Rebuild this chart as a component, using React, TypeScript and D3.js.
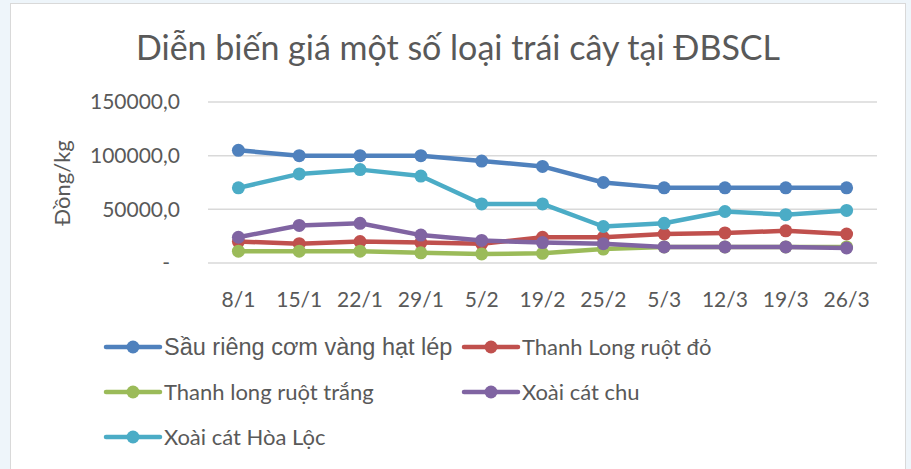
import React, { useRef, useEffect } from "react";
import * as d3 from "d3";

// data
const categories: string[] = ["8/1", "15/1", "22/1", "29/1", "5/2", "19/2", "25/2", "5/3", "12/3", "19/3", "26/3"];
const seriesNames: string[] = [
  "Sầu riêng cơm vàng hạt lép",
  "Thanh Long ruột đỏ",
  "Thanh long ruột trắng",
  "Xoài cát chu",
  "Xoài cát Hòa Lộc",
];
const sauRieng: number[] = [105000, 100000, 100000, 100000, 95000, 90000, 75000, 70000, 70000, 70000, 70000];
const thanhLongDo: number[] = [20000, 18000, 20000, 19000, 18000, 24000, 24000, 27000, 28000, 30000, 27000];
const thanhLongTrang: number[] = [11000, 11000, 11000, 9500, 8500, 9000, 13000, 15000, 15000, 15000, 15000];
const xoaiCatChu: number[] = [24000, 35000, 37000, 26000, 21000, 19000, 18000, 15000, 15000, 15000, 14000];
const xoaiHoaLoc: number[] = [70000, 83000, 87000, 81000, 55000, 55000, 34000, 37000, 48000, 45000, 49000];
const yTicks: number[] = [0, 50000, 100000, 150000];
const colors: string[] = ["#4f81bd", "#c0504d", "#9bbb59", "#8064a2", "#4bacc6"];

const App = () => {
  const canvas = useRef<SVGSVGElement>(null);

  const width = 911;
  const height = 469;
  const plot = { left: 208, right: 877, top: 102, bottom: 263 };
  const calibri = "Lato, 'Open Sans', sans-serif";

  useEffect(() => {
    const svg = d3.select(canvas.current);
    svg.selectAll("*").remove();

    // frame
    svg.append("rect").attr("width", width).attr("height", height).attr("fill", "#eef5fa");
    svg.append("rect")
      .attr("x", 10.5).attr("y", 3.5).attr("width", 895).attr("height", 470)
      .attr("fill", "#ffffff").attr("stroke", "#d9d9d9").attr("stroke-width", 1);

    // title
    svg.append("text")
      .attr("x", 458).attr("y", 60)
      .attr("text-anchor", "middle")
      .style("font-family", calibri).style("font-size", "34px").style("fill", "#595959")
      .text("Diễn biến giá một số loại trái cây tại ĐBSCL");

    const xScale = d3.scaleBand<string>().domain(categories).range([plot.left, plot.right]);
    const yScale = d3.scaleLinear().domain([0, 150000]).range([plot.bottom, plot.top]);
    const xc = (c: string) => (xScale(c) as number) + xScale.bandwidth() / 2;

    // gridlines
    svg.append("g").selectAll("line")
      .data(yTicks)
      .enter().append("line")
        .attr("x1", plot.left).attr("x2", plot.right)
        .attr("y1", (d: number) => yScale(d)).attr("y2", (d: number) => yScale(d))
        .attr("stroke", "#d9d9d9").attr("stroke-width", 1.5);

    // y tick labels
    const fmt = (d: number) => (d === 0 ? "-" : d3.format("d")(d) + ",0");
    svg.append("g").selectAll("text")
      .data(yTicks)
      .enter().append("text")
        .attr("x", (d: number) => (d === 0 ? 170 : 180))
        .attr("y", (d: number) => yScale(d))
        .attr("dy", "0.35em")
        .attr("text-anchor", "end")
        .style("font-family", calibri).style("font-size", "21px").style("fill", "#595959")
        .text(fmt);

    // y axis title
    svg.append("text")
      .attr("transform", "translate(70,183) rotate(-90)")
      .attr("text-anchor", "middle")
      .style("font-family", calibri).style("font-size", "22px").style("fill", "#595959")
      .text("Đồng/kg");

    // x tick labels
    svg.append("g").selectAll("text")
      .data(categories)
      .enter().append("text")
        .attr("x", (d: string) => xc(d))
        .attr("y", 307)
        .attr("text-anchor", "middle")
        .style("font-family", calibri).style("font-size", "21px").style("fill", "#595959")
        .text((d: string) => d);

    // series
    const allSeries: number[][] = [sauRieng, thanhLongDo, thanhLongTrang, xoaiCatChu, xoaiHoaLoc];
    const line = d3.line<number>()
      .x((_d: number, i: number) => xc(categories[i]))
      .y((d: number) => yScale(d));

    allSeries.forEach((values, s) => {
      const g = svg.append("g");
      g.append("path")
        .datum(values)
        .attr("d", line)
        .attr("fill", "none")
        .attr("stroke", colors[s])
        .attr("stroke-width", 4.5)
        .attr("stroke-linejoin", "round")
        .attr("stroke-linecap", "round");
      g.selectAll("circle")
        .data(values)
        .enter().append("circle")
          .attr("cx", (_d: number, i: number) => xc(categories[i]))
          .attr("cy", (d: number) => yScale(d))
          .attr("r", 6.5)
          .style("fill", colors[s]);
    });

    // legend
    const legendPos = [
      { x: 106, y: 347 },
      { x: 464, y: 347 },
      { x: 106, y: 392 },
      { x: 464, y: 392 },
      { x: 106, y: 437 },
    ];
    seriesNames.forEach((name, s) => {
      const p = legendPos[s];
      const g = svg.append("g").attr("transform", "translate(" + p.x + "," + p.y + ")");
      g.append("line")
        .attr("x1", 0).attr("x2", 54).attr("y1", 0).attr("y2", 0)
        .attr("stroke", colors[s]).attr("stroke-width", 4.5).attr("stroke-linecap", "round");
      g.append("circle").attr("cx", 27).attr("cy", 0).attr("r", 6.5).style("fill", colors[s]);
      g.append("text")
        .attr("x", 58).attr("y", 0).attr("dy", "0.35em")
        .style("font-family", s === 0 ? "'Liberation Sans', Arial, sans-serif" : calibri)
        .style("font-size", s === 0 ? "23.5px" : "22px")
        .style("fill", "#595959")
        .text(name);
    });
  });

  return (
    <svg
      ref={canvas}
      width={width}
      height={height}
      style={{ position: "absolute", left: 0, top: 0, display: "block" }}
    ></svg>
  );
};

export default App;
